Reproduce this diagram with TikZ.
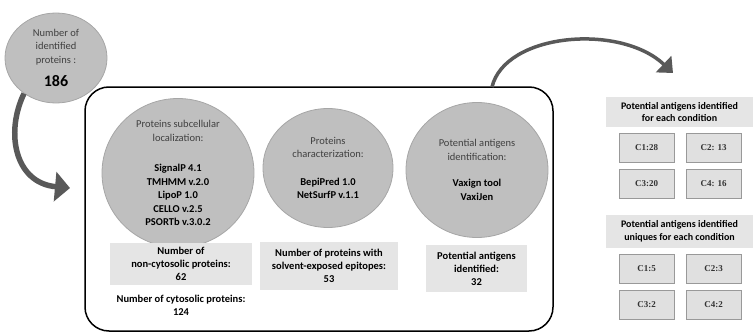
\documentclass[tikz,border=0pt]{standalone}
\usepackage{fontspec}
\setmainfont{Carlito}
\newfontfamily\condfont{Liberation Serif}
\usetikzlibrary{positioning, arrows.meta, shapes.geometric}

\newcommand{\toolname}[1]{\textcolor{black}{\textbf{#1}}}

\begin{document}
\begin{tikzpicture}[
      x=1pt, y=1pt,
      node distance=6pt and 11pt,
      disc/.style={ellipse, draw=gray!70, fill=gray!50, line width=0.8pt, inner sep=0pt, align=center, text=black!75, font=\fontsize{10.5}{13.5}\selectfont},
      countbox/.style={fill=gray!20, inner sep=0pt, align=center, font=\fontsize{10.5}{13}\selectfont\bfseries},
      headbox/.style={fill=gray!20, inner sep=0pt, align=center, minimum width=147pt, font=\fontsize{10}{12.5}\selectfont\bfseries},
      cond/.style={draw=black!40, fill=black!12, line width=1pt, minimum width=55pt, minimum height=29pt, inner sep=0pt, text=black!80, font=\fontsize{9}{10}\selectfont\condfont\bfseries},
      frame/.style={draw, line width=1.5pt, rounded corners=24pt, minimum width=468pt, minimum height=244pt},
      bigarr/.style={draw=black!65, line width=5.5pt, -{Triangle[width=29pt, length=15pt]}},
      arcarr/.style={draw=black!65, line width=3.5pt, -{Triangle[width=22pt, length=13pt]}}
    ]
    \useasboundingbox (0,0) rectangle (753,333);

    \node[frame] (frame) at (319,124) {};

    \node[disc, minimum width=102pt, minimum height=90pt] (idcount) at (56,275)
      {Number of\\identified\\proteins :\\[10pt]{\fontsize{16}{18}\selectfont\toolname{186}}};

    \node[disc, minimum width=152pt, minimum height=134pt] (loc) at (178,160)
      {Proteins subcellular\\localization:\\[17pt]\toolname{SignalP 4.1}\\\toolname{TMHMM v.2.0}\\\toolname{LipoP 1.0}\\\toolname{CELLO v.2.5}\\\toolname{PSORTb v.3.0.2}};
    \node[disc, minimum width=130pt, minimum height=119pt] (char) at (328,165)
      {Proteins\\characterization:\\[14pt]\toolname{BepiPred 1.0}\\\toolname{NetSurfP v.1.1}};
    \node[disc, minimum width=142pt, minimum height=135pt] (ident) at (477,163)
      {Potential antigens\\identification:\\[13pt]\toolname{Vaxign tool}\\\toolname{VaxiJen}};

    \node[countbox, minimum width=142pt, minimum height=42pt] (noncyto) at (181,69)
      {Number of\\non-cytosolic proteins:\\62};
    \node[countbox, fill=none] (cyto) at (181,28)
      {Number of cytosolic proteins:\\124};
    \node[countbox, minimum width=138pt, minimum height=48pt] (epit) at (329,67)
      {Number of proteins with\\solvent-exposed epitopes:\\53};
    \node[countbox, minimum width=101pt, minimum height=47pt] (antig) at (476.5,64.5)
      {Potential antigens\\identified:\\32};

    \node[headbox, minimum height=30pt] (hdall) at (679.5,221)
      {Potential antigens identified\\for each condition};
    \node[cond] (a1) at (646.5,185.5) {C1:28};
    \node[cond, right=of a1] (a2) {C2: 13};
    \node[cond, below=of a1] (a3) {C3:20};
    \node[cond, right=of a3] (a4) {C4: 16};

    \node[headbox, minimum height=33pt] (hduni) at (679.5,101.5)
      {Potential antigens identified\\uniques for each condition};
    \node[cond] (u1) at (646.5,64.5) {C1:5};
    \node[cond, right=of u1] (u2) {C2:3};
    \node[cond, below=of u1] (u3) {C3:2};
    \node[cond, right=of u3] (u4) {C4:2};

    \coordinate (arrin) at (70,145);
    \coordinate (arrout) at (492,246);
    \coordinate (arrend) at (673,260);

    \draw[bigarr] (idcount.228) .. controls (5,200) and (15,150) .. (arrin);
    \draw[arcarr] (arrout) .. controls (505,300) and (620,310) .. (arrend);
  \end{tikzpicture}
\end{document}
